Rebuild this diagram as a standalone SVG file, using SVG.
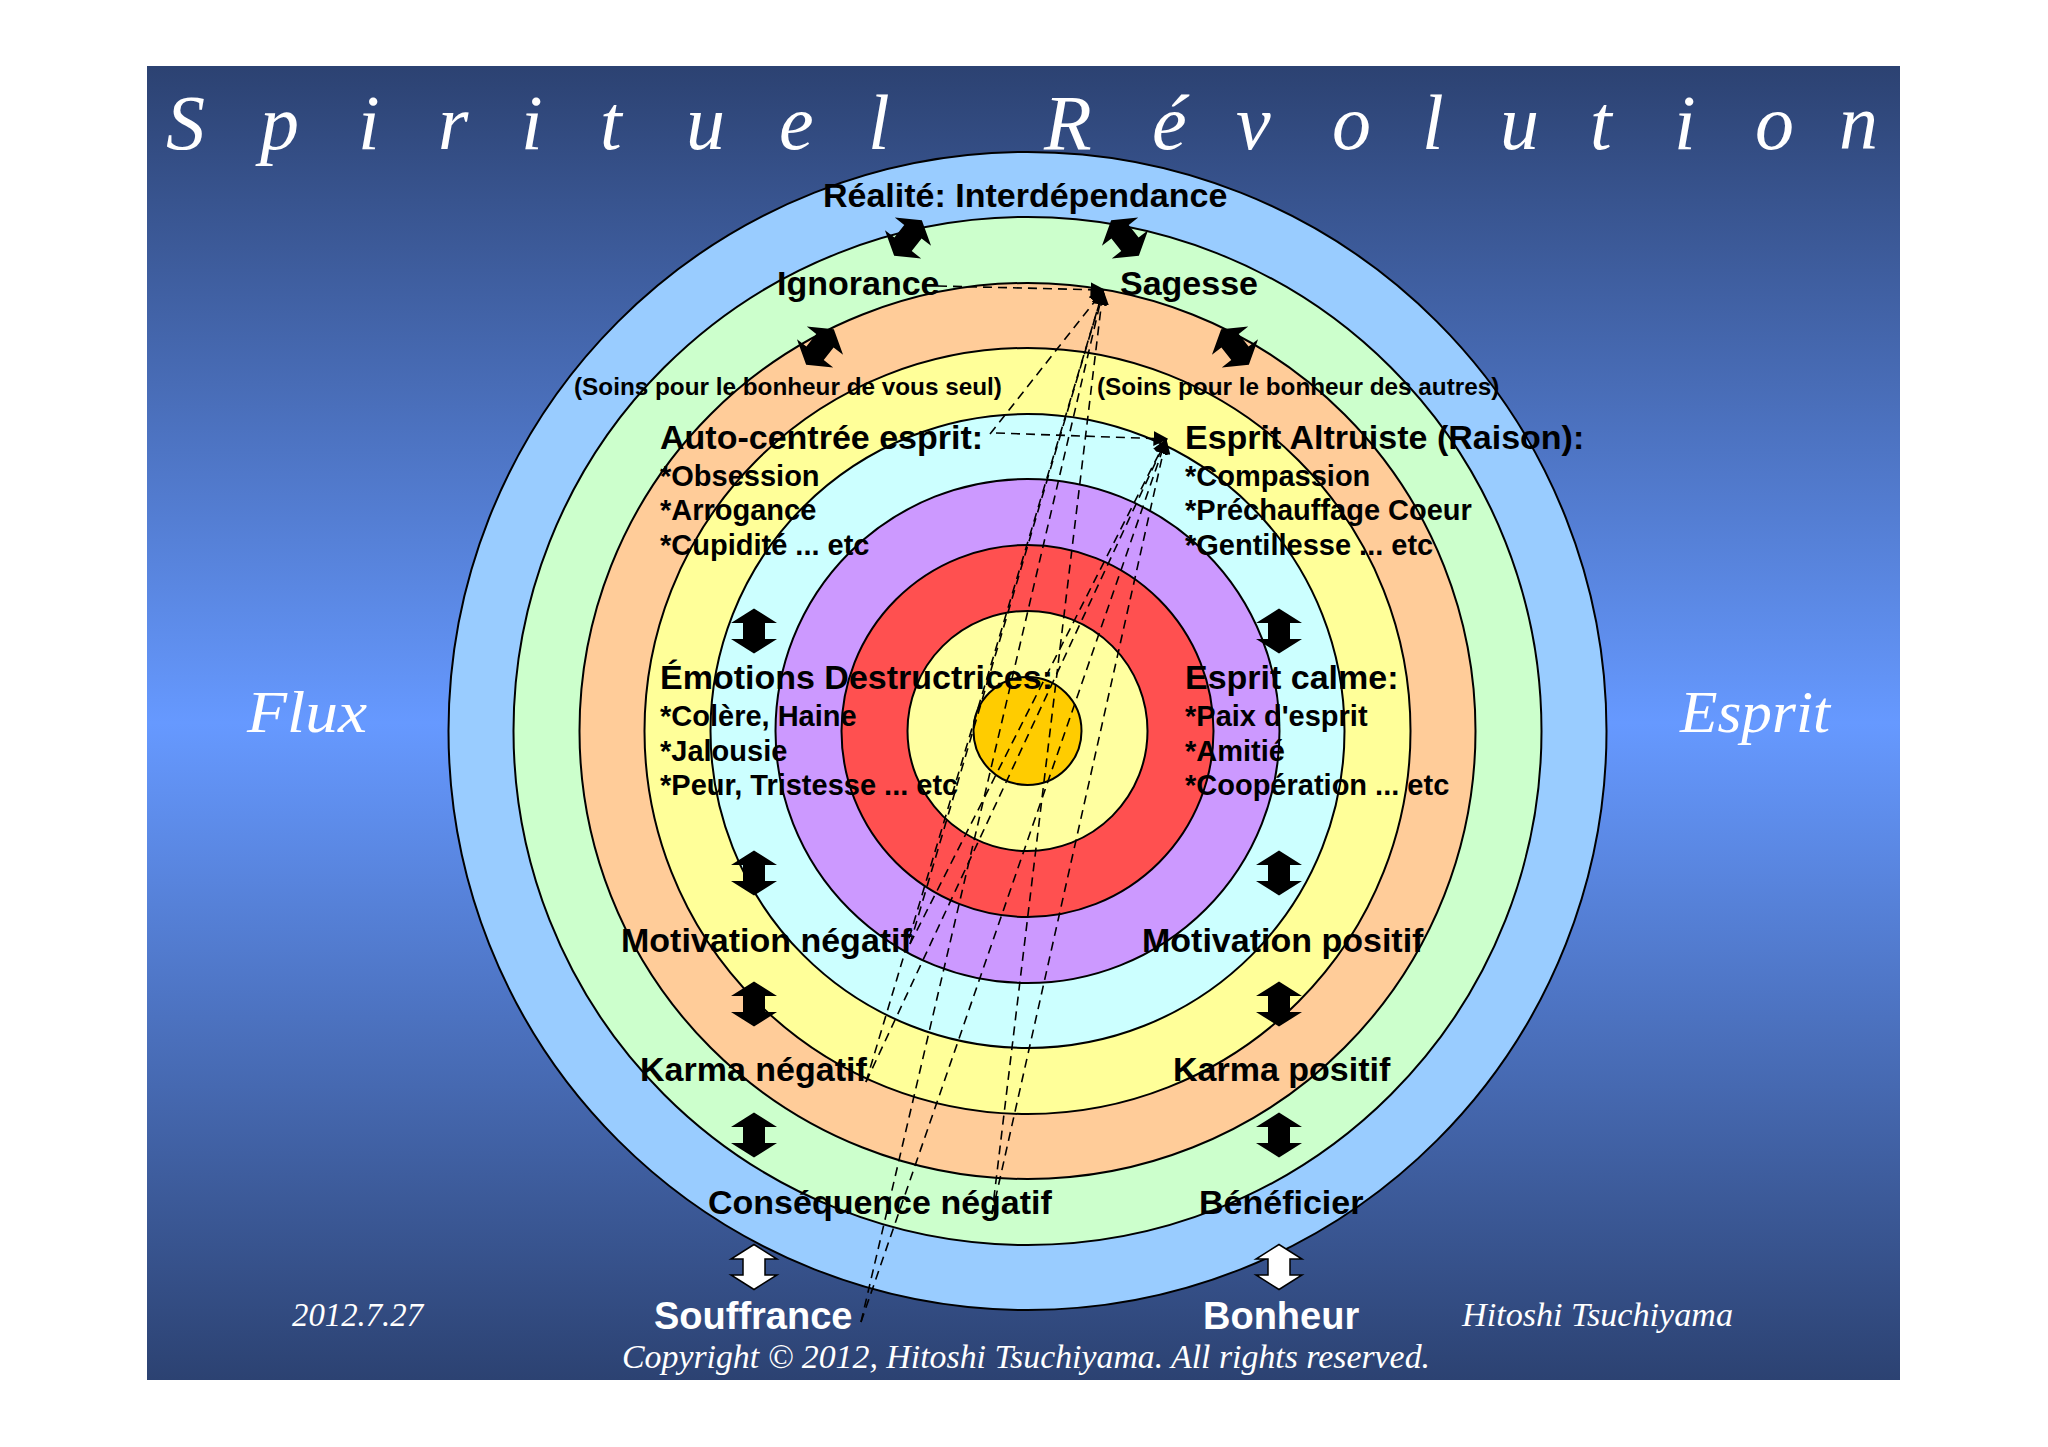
<svg xmlns="http://www.w3.org/2000/svg" width="2048" height="1447" viewBox="0 0 2048 1447">
<style>
.lbl{font-family:"Liberation Sans",Arial,sans-serif;font-weight:bold;font-size:34px;fill:#000}
.lst{font-family:"Liberation Sans",Arial,sans-serif;font-weight:bold;font-size:29px;fill:#000}
.soin{font-family:"Liberation Sans",Arial,sans-serif;font-weight:bold;font-size:24.3px;fill:#000}
.big{font-family:"Liberation Sans",Arial,sans-serif;font-weight:bold;font-size:38px;fill:#fff}
.scr{font-family:"Liberation Serif","Times New Roman",serif;font-style:italic;fill:#fff}
.ring{stroke:#000;stroke-width:2}
.dash{fill:none;stroke:#000;stroke-width:1.6;stroke-dasharray:9 6;marker-end:url(#ah)}
.blk{fill:#000}
.wht{fill:#fff;stroke:#000;stroke-width:1.5}
</style>
<defs>
<linearGradient id="bg" x1="0" y1="0" x2="0" y2="1">
<stop offset="0" stop-color="#2c4272"/>
<stop offset="0.5" stop-color="#6699ff"/>
<stop offset="1" stop-color="#2c4272"/>
</linearGradient>
<marker id="ah" viewBox="0 0 10 10" refX="9" refY="5" markerWidth="15" markerHeight="15" markerUnits="userSpaceOnUse" orient="auto">
<path d="M0,0 L10,5 L0,10 Z" fill="#000"/>
</marker>
<path id="dbl" d="M0,-22.5 L23,-8 L11,-8 L11,8 L23,8 L0,22.5 L-23,8 L-11,8 L-11,-8 L-23,-8 Z"/>
</defs>

<rect x="0" y="0" width="2048" height="1447" fill="#fff"/>
<rect x="147" y="66" width="1753" height="1314" fill="url(#bg)"/>

<g id="title">
<text class="scr" font-size="78" y="149" x="166 260 358 438 521 600 686 779 868 1044 1152 1236 1332 1422 1500 1590 1674 1755 1839">SpirituelRévolution</text>
</g>

<g id="rings">
<circle class="ring" cx="1027.5" cy="731" r="579" fill="#99ccff"/>
<circle class="ring" cx="1027.5" cy="731" r="514" fill="#ccffcc"/>
<circle class="ring" cx="1027.5" cy="731" r="448" fill="#ffcc99"/>
<circle class="ring" cx="1027.5" cy="731" r="383" fill="#ffff99"/>
<circle class="ring" cx="1027.5" cy="731" r="317" fill="#ccffff"/>
<circle class="ring" cx="1027.5" cy="731" r="252" fill="#cc99ff"/>
<circle class="ring" cx="1027.5" cy="731" r="186" fill="#ff5050"/>
<circle class="ring" cx="1027.5" cy="731" r="120" fill="#ffffa0"/>
<circle class="ring" cx="1027.5" cy="731" r="54" fill="#ffcc00"/>
</g>

<g id="side-labels">
<text id="flux" class="scr" font-size="60" x="247" y="732" textLength="120" lengthAdjust="spacingAndGlyphs">Flux</text>
<text id="esprit" class="scr" font-size="60" x="1680" y="732" textLength="150" lengthAdjust="spacingAndGlyphs">Esprit</text>
<text id="date" class="scr" font-size="33" x="292" y="1326" textLength="131" lengthAdjust="spacingAndGlyphs">2012.7.27</text>
<text id="author" class="scr" font-size="33" x="1462" y="1326" textLength="271" lengthAdjust="spacingAndGlyphs">Hitoshi Tsuchiyama</text>
<text id="copyright" class="scr" font-size="34" x="622" y="1368" textLength="808" lengthAdjust="spacingAndGlyphs">Copyright © 2012, Hitoshi Tsuchiyama. All rights reserved.</text>
</g>

<g id="arrows">
<use href="#dbl" class="blk" transform="translate(908,238) rotate(38)"/>
<use href="#dbl" class="blk" transform="translate(1125,238) rotate(-38)"/>
<use href="#dbl" class="blk" transform="translate(820,347) rotate(38)"/>
<use href="#dbl" class="blk" transform="translate(1235,347) rotate(-38)"/>
<use href="#dbl" class="blk" transform="translate(754,631)"/>
<use href="#dbl" class="blk" transform="translate(1279,631)"/>
<use href="#dbl" class="blk" transform="translate(754,873)"/>
<use href="#dbl" class="blk" transform="translate(1279,873)"/>
<use href="#dbl" class="blk" transform="translate(754,1004)"/>
<use href="#dbl" class="blk" transform="translate(1279,1004)"/>
<use href="#dbl" class="blk" transform="translate(754,1135)"/>
<use href="#dbl" class="blk" transform="translate(1279,1135)"/>
<use href="#dbl" class="wht" transform="translate(754,1267)"/>
<use href="#dbl" class="wht" transform="translate(1279,1267)"/>
</g>

<g id="node-realite"><text class="lbl" x="823" y="207">Réalité: Interdépendance</text></g>
<g id="node-ignorance"><text class="lbl" x="777" y="295">Ignorance</text></g>
<g id="node-sagesse"><text class="lbl" x="1120" y="295">Sagesse</text></g>
<g id="node-soins-seul"><text class="soin" x="574" y="395">(Soins pour le bonheur de vous seul)</text></g>
<g id="node-soins-autres"><text class="soin" x="1097" y="395">(Soins pour le bonheur des autres)</text></g>
<g id="node-autocentree">
<text class="lbl" x="660" y="449">Auto-centrée esprit:</text>
<text class="lst" x="660" y="486">*Obsession</text>
<text class="lst" x="660" y="520">*Arrogance</text>
<text class="lst" x="660" y="555">*Cupidité ... etc</text>
</g>
<g id="node-altruiste">
<text class="lbl" x="1185" y="449">Esprit Altruiste (Raison):</text>
<text class="lst" x="1185" y="486">*Compassion</text>
<text class="lst" x="1185" y="520">*Préchauffage Coeur</text>
<text class="lst" x="1185" y="555">*Gentillesse ... etc</text>
</g>
<g id="node-emotions">
<text class="lbl" x="660" y="689">Émotions Destructrices:</text>
<text class="lst" x="660" y="726">*Colère, Haine</text>
<text class="lst" x="660" y="761">*Jalousie</text>
<text class="lst" x="660" y="795">*Peur, Tristesse ... etc</text>
</g>
<g id="node-calme">
<text class="lbl" x="1185" y="689">Esprit calme:</text>
<text class="lst" x="1185" y="726">*Paix d'esprit</text>
<text class="lst" x="1185" y="761">*Amitié</text>
<text class="lst" x="1185" y="795">*Coopération ... etc</text>
</g>
<g id="node-motivation-neg"><text class="lbl" x="621" y="952">Motivation négatif</text></g>
<g id="node-motivation-pos"><text class="lbl" x="1142" y="952">Motivation positif</text></g>
<g id="node-karma-neg"><text class="lbl" x="640" y="1081">Karma négatif</text></g>
<g id="node-karma-pos"><text class="lbl" x="1173" y="1081">Karma positif</text></g>
<g id="node-consequence"><text class="lbl" x="708" y="1214">Conséquence négatif</text></g>
<g id="node-beneficier"><text class="lbl" x="1199" y="1214">Bénéficier</text></g>
<g id="node-souffrance"><text class="big" x="654" y="1329">Souffrance</text></g>
<g id="node-bonheur"><text class="big" x="1203" y="1329">Bonheur</text></g>

<g id="connectors">
<line class="dash" x1="938" y1="286" x2="1104" y2="290"/>
<line class="dash" x1="996" y1="433" x2="1167" y2="439"/>
<line class="dash" x1="990" y1="434" x2="1103" y2="291"/>
<line class="dash" x1="861" y1="1322" x2="1103" y2="291"/>
<line class="dash" x1="861" y1="1322" x2="1166" y2="440"/>
<line class="dash" x1="992" y1="1214" x2="1103" y2="291"/>
<line class="dash" x1="992" y1="1214" x2="1166" y2="440"/>
<line class="dash" x1="866" y1="1082" x2="1103" y2="291"/>
<line class="dash" x1="866" y1="1082" x2="1166" y2="440"/>
<line class="dash" x1="910" y1="944" x2="1103" y2="291"/>
<line class="dash" x1="910" y1="944" x2="1166" y2="440"/>
</g>
</svg>
